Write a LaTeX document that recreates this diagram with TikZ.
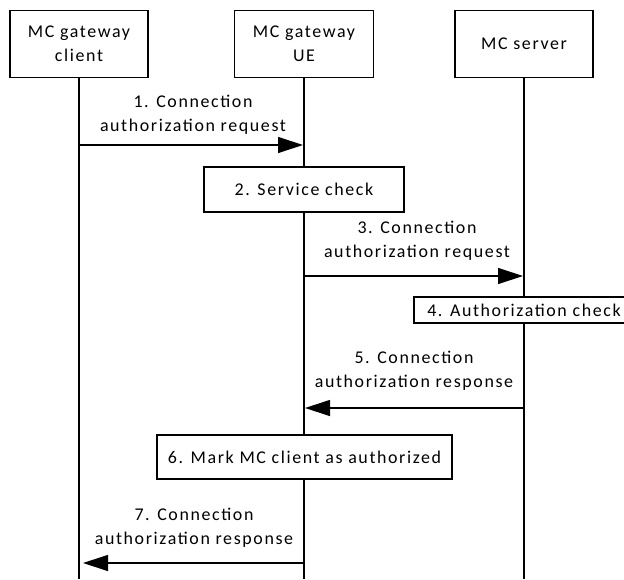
\documentclass[tikz,border=0pt]{standalone}
\usepackage{fontspec}
\setmainfont{Carlito}[LetterSpace=9]
\usetikzlibrary{arrows.meta}
\begin{document}
\begin{tikzpicture}[x=1bp,y=-1bp,
  box/.style={draw,line width=1.3bp,inner sep=0pt,align=center,font=\fontsize{18}{24.5}\selectfont},
  lbl/.style={align=center,font=\fontsize{18}{24.5}\selectfont,inner sep=0pt},
  life/.style={line width=1.2bp},
  msg/.style={line width=1.2bp,-{Triangle[length=25bp,width=16bp]}}]
\useasboundingbox (0,0) rectangle (624,580);
\clip (0,0) rectangle (624,580);
% heads
\node[box,minimum width=138bp,minimum height=67bp] (a) at (79,44) {MC gateway\\client};
\node[box,minimum width=139bp,minimum height=67bp] (b) at (304,44) {MC gateway\\UE};
\node[box,minimum width=138bp,minimum height=67bp] (c) at (524,44) {MC server};
% lifeline ends
\coordinate (aend) at (79,579);
\coordinate (bend) at (304,579);
\coordinate (cend) at (524,579);
\draw[life] (a.south) -- (aend);
\draw[life] (b.south) -- (bend);
\draw[life] (c.south) -- (cend);
% message anchor points
\coordinate (m1a) at (79,145);
\coordinate (m1b) at (303,145);
\coordinate (m3b) at (304,276);
\coordinate (m3c) at (523,276);
\coordinate (m5c) at (524,408);
\coordinate (m5b) at (305,408);
\coordinate (m7b) at (304,563);
\coordinate (m7a) at (83,563);
% step boxes
\node[box,fill=white,minimum width=200bp,minimum height=45bp] (s2) at (304,189.5) {2. Service check};
\node[box,fill=white,minimum width=220bp,minimum height=26bp] (s4) at (524,310) {4. Authorization check};
\node[box,fill=white,minimum width=295bp,minimum height=44bp] (s6) at (304.5,457) {6. Mark MC client as authorized};
% messages
\draw[msg] (m1a) -- (m1b);
\node[lbl] (l1) at (193,114.5) {1. Connection\\authorization request};
\draw[msg] (m3b) -- (m3c);
\node[lbl] (l3) at (417,241) {3. Connection\\authorization request};
\draw[msg] (m5c) -- (m5b);
\node[lbl] (l5) at (414,370.5) {5. Connection\\authorization response};
\draw[msg] (m7b) -- (m7a);
\node[lbl] (l7) at (194,527.5) {7. Connection\\authorization response};
\end{tikzpicture}
\end{document}
